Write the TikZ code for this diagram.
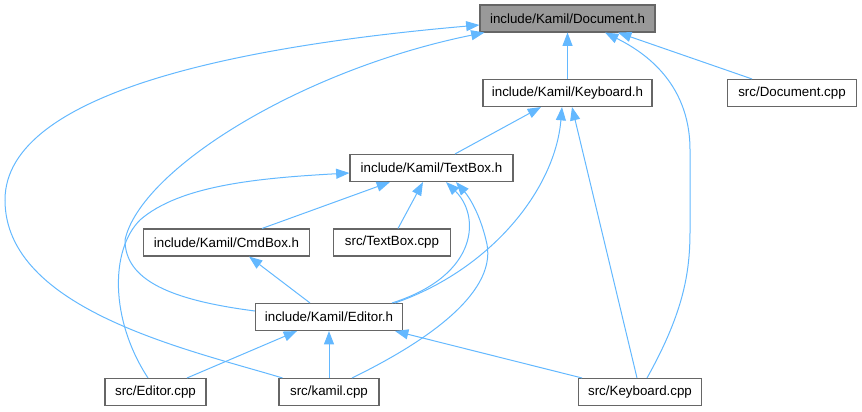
\documentclass[tikz,border=0pt]{standalone}
\usepackage{fontspec}
\setmainfont{Liberation Sans}
\usepackage{xcolor}
\usepackage{tikz}
\usetikzlibrary{arrows.meta,calc}
\definecolor{edgeblue}{HTML}{63B8FF}
\definecolor{boxgray}{HTML}{666666}
\definecolor{rootgray}{HTML}{999999}

\begin{document}
\begin{tikzpicture}[
  x=0.75pt, y=-0.75pt,
  font=\fontsize{10pt}{12pt}\selectfont,
  file/.style={draw=boxgray, line width=0.8pt, fill=white, minimum height=20.25pt, inner sep=0pt, align=center},
  root/.style={file, fill=rootgray},
  dep/.style={-{Triangle[length=10pt,width=7.5pt]}, draw=edgeblue, line width=0.75pt}
]
\useasboundingbox (0,0) rectangle (862,411);
% Header files
\node[root, minimum width=131.25pt] (doch) at (567.5,18.5) {include/Kamil/Document.h};
\node[file, minimum width=126.75pt] (kbh) at (567.5,93) {include/Kamil/Keyboard.h};
\node[file, minimum width=96.75pt] (doccpp) at (792,93) {src/Document.cpp};
\node[file, minimum width=122.25pt] (tbh) at (431.5,168) {include/Kamil/TextBox.h};
\node[file, minimum width=124.5pt] (cmdh) at (226.5,242.5) {include/Kamil/CmdBox.h};
\node[file, minimum width=87.75pt] (tbcpp) at (392,242.5) {src/TextBox.cpp};
\node[file, minimum width=110.25pt] (edh) at (329,317) {include/Kamil/Editor.h};
% Source files
\node[file, minimum width=75.75pt] (edcpp) at (155.5,392) {src/Editor.cpp};
\node[file, minimum width=75pt] (kamilcpp) at (329,392) {src/kamil.cpp};
\node[file, minimum width=92.25pt] (kbcpp) at (640,392) {src/Keyboard.cpp};
% Includes of Document.h
\draw[dep] (kbh.north) -- (doch.south);
\draw[dep] ($(doccpp.north)+(-40,0)$) -- ($(doch.south)+(50.5,0)$);
\draw[dep] ($(kbcpp.north)+(7,0)$) .. controls (685,310) and (690,270) .. (690,230)
  -- (690,150) .. controls (690,80) and (640,50) .. ($(doch.south)+(37.5,0)$);
\draw[dep] ($(kamilcpp.north west)+(4,0)$) .. controls (190,350) and (5,310) .. (5,200)
  .. controls (5,90) and (250,45) .. ($(doch.west)+(0,6.5)$);
\draw[dep] ($(edh.west)+(0,-6)$) .. controls (170,300) and (125,280) .. (125,240)
  .. controls (140,170) and (300,70) .. ($(doch.south west)+(5,0)$);
% Includes of Keyboard.h
\draw[dep] ($(tbh.north)+(23.5,0)$) -- ($(kbh.south)+(-26.5,0)$);
\draw[dep] ($(edh.north)+(66,0)$) .. controls (490,270) and (555,190) .. ($(kbh.south)+(-5.5,0)$);
\draw[dep] ($(kbcpp.north)+(-3,0)$) -- ($(kbh.south)+(4.5,0)$);
% Includes of TextBox.h
\draw[dep] ($(cmdh.north)+(35.5,0)$) -- ($(tbh.south)+(-41.5,0)$);
\draw[dep] ($(tbcpp.north)+(6,0)$) -- ($(tbh.south)+(-8.5,0)$);
\draw[dep] ($(edh.north)+(63,0)$) .. controls (480,275) and (480,215) .. ($(tbh.south)+(14.5,0)$);
\draw[dep] ($(kamilcpp.north)+(23,0)$) .. controls (430,340) and (500,290) .. (486,240)
  .. controls (480,215) and (470,198) .. ($(tbh.south)+(24.5,0)$);
\draw[dep] ($(edcpp.north)+(-7.5,0)$) .. controls (110,320) and (110,250) .. (140,220)
  .. controls (180,185) and (260,178) .. ($(tbh.west)+(0,5)$);
% Includes of CmdBox.h and Editor.h
\draw[dep] ($(edh.north)+(-19,0)$) -- ($(cmdh.south)+(22.5,0)$);
\draw[dep] ($(edcpp.north)+(31.5,0)$) -- ($(edh.south)+(-32,0)$);
\draw[dep] (kamilcpp.north) -- (edh.south);
\draw[dep] ($(kbcpp.north)+(-58,0)$) -- ($(edh.south)+(66,0)$);
\end{tikzpicture}
\end{document}
